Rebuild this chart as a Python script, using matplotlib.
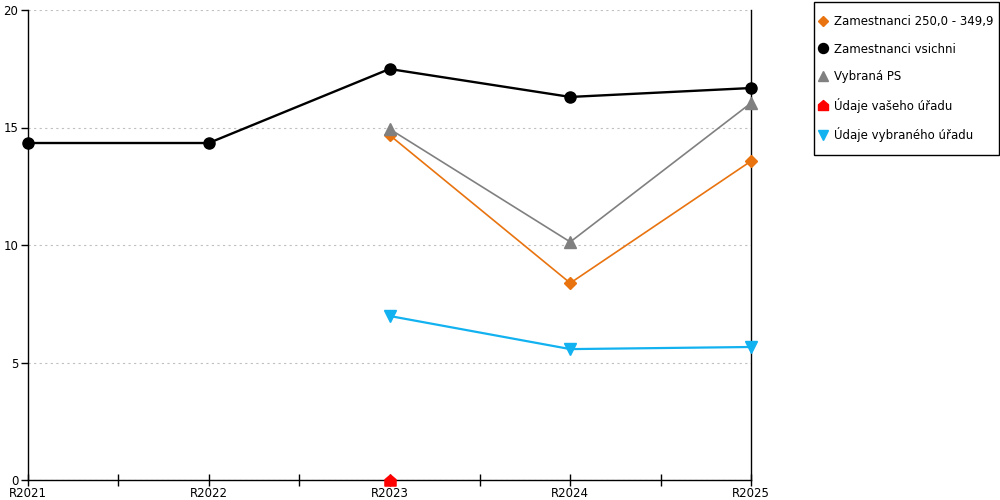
import numpy as np
from matplotlib import pyplot as plt
from matplotlib.path import Path
from matplotlib.patches import Rectangle

roky = ['R2021', 'R2022', 'R2023', 'R2024', 'R2025']
zam_250 = [np.nan, np.nan, 14.68, 8.38, 13.57]
zam_vsichni = [14.34, 14.34, 17.49, 16.30, 16.68]
vybrana_ps = [np.nan, np.nan, 14.94, 10.13, 16.04]
vas_urad = [np.nan, np.nan, 0.0, np.nan, np.nan]
vybrany_urad = [np.nan, np.nan, 6.98, 5.57, 5.66]

plt.rcParams['font.family'] = ['DejaVu Sans']

domek = Path([(-1, -1), (1, -1), (1, 0.15), (0, 1), (-1, 0.15), (-1, -1)],
             [Path.MOVETO, Path.LINETO, Path.LINETO, Path.LINETO, Path.LINETO, Path.CLOSEPOLY])

fig = plt.figure(figsize=(10, 5), dpi=100)
ax = fig.add_axes([0.028, 0.04, 0.723, 0.94])
x = np.arange(len(roky))

ax.plot(x, zam_250, '-', color='#E8730F', lw=1.2, marker='D', ms=6, clip_on=False, zorder=3,
        label='Zamestnanci 250,0 - 349,9')
ax.plot(x, zam_vsichni, '-', color='#000000', lw=1.7, marker='o', ms=8, clip_on=False, zorder=4,
        label='Zamestnanci vsichni')
ax.plot(x, vybrana_ps, '-', color='#808080', lw=1.2, marker='^', ms=8, clip_on=False, zorder=3,
        label='Vybraná PS')
ax.plot(x, vas_urad, '-', color='#FF0000', lw=1.2, marker=domek, ms=8, clip_on=False, zorder=5,
        label='Údaje vašeho úřadu')
ax.plot(x, vybrany_urad, '-', color='#12B2F0', lw=1.6, marker='v', ms=8, clip_on=False, zorder=3,
        label='Údaje vybraného úřadu')

ax.set_xlim(0, 4)
ax.set_ylim(0, 20)
ax.set_xticks(x)
ax.set_xticklabels(roky)
ax.set_xticks(x[:-1] + 0.5, minor=True)
ax.set_yticks([0, 5, 10, 15, 20])
ax.tick_params(axis='x', which='both', direction='inout', length=8, width=1, labelsize=8.5, pad=1)
ax.tick_params(axis='y', direction='out', length=5, width=1, labelsize=8.5, pad=2)
ax.grid(axis='y', color='#C0C0C0', linestyle=(0, (2, 3)), linewidth=0.8)
ax.spines['top'].set_visible(False)
for s in ['left', 'bottom', 'right']:
    ax.spines[s].set_linewidth(1)
    ax.spines[s].set_color('black')

# ramecek legendy zvlast, at sedi okraje
fig.patches.append(Rectangle((0.8135, 0.69), 0.185, 0.307, transform=fig.transFigure,
                             fill=False, edgecolor='black', linewidth=1))
leg = fig.legend(loc='upper left', bbox_to_anchor=(0.8183, 0.970), fontsize=8.5,
                 frameon=False, labelspacing=1.23,
                 handlelength=0.8, handletextpad=0.53, borderpad=0, borderaxespad=0,
                 markerscale=0.9)
for h in leg.legend_handles:
    h.set_linestyle('none')

fig.savefig('out.png', dpi=100)
